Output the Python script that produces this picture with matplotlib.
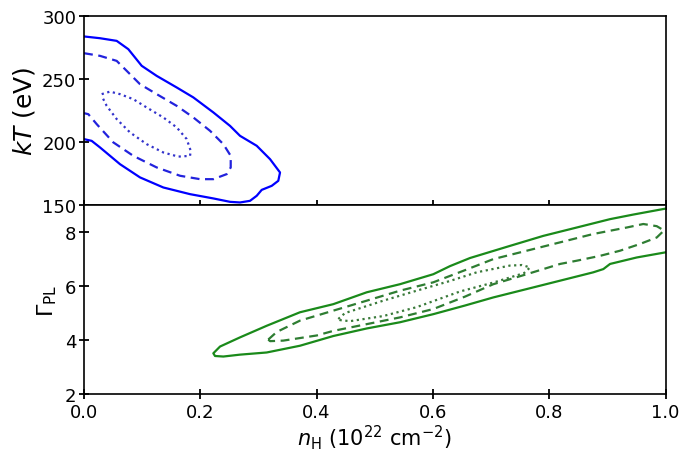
import numpy as np
from matplotlib import pyplot as plt

# kT vs nH contours (blue)
kt_solid_x = [0, 0.0275, 0.0562, 0.0762, 0.0877, 0.0992, 0.125, 0.1594, 0.188, 0.2224,
              0.2511, 0.2683, 0.297, 0.3199, 0.3371, 0.3341, 0.3228, 0.3056, 0.297, 0.2855,
              0.2683, 0.2511, 0.2224, 0.1823, 0.1364, 0.0963, 0.0619, 0.0275, 0.0132, 0]
kt_solid_y = [283.9, 282.5, 280.4, 273.8, 267.2, 260.6, 252.6, 243.4, 235.5, 223.6,
              212.9, 205.0, 197.1, 186.5, 175.9, 169.3, 165.3, 162.1, 157.4, 153.4,
              152.1, 152.6, 155.3, 158.7, 164.0, 172.0, 182.5, 195.8, 201.0, 202.4]

kt_dash_x = [0, 0.0275, 0.0562, 0.0734, 0.0963, 0.125, 0.1594, 0.188, 0.2167, 0.2396, 0.2523,
             0.2523, 0.2454, 0.2224, 0.1995, 0.1651, 0.125, 0.0848, 0.0504, 0.0218, 0.0074, 0]
kt_dash_y = [270.6, 268.5, 264.5, 256.6, 246.0, 238.1, 228.8, 219.6, 209.0, 198.4, 189.1,
             179.9, 174.6, 170.6, 170.6, 173.3, 179.9, 189.1, 199.8, 214.3, 222.2, 223.0]

kt_dot_x = [0.0304, 0.0447, 0.0619, 0.0848, 0.1078, 0.1364, 0.1594, 0.1766, 0.1835,
            0.1823, 0.1622, 0.1364, 0.1078, 0.0791, 0.0562, 0.039, 0.0304]
kt_dot_y = [238.1, 240.1, 238.1, 234.1, 227.5, 219.6, 211.7, 202.4, 193.1,
            189.1, 188.5, 191.8, 198.4, 207.7, 218.3, 228.8, 236.7]

# Gamma vs nH contours (green); the outer one runs off the right edge
gam_solid_x = [1.0, 0.9446, 0.9046, 0.8473, 0.7898, 0.7326, 0.6638, 0.6294, 0.6007, 0.5434,
               0.4862, 0.4287, 0.3714, 0.3142, 0.2683, 0.2339, 0.2224,
               0.2253, 0.2396, 0.2683, 0.3142, 0.3714, 0.4287, 0.4862, 0.5434, 0.6007,
               0.6552, 0.7039, 0.7613, 0.8186, 0.8758, 0.8931, 0.9046, 0.9505, 1.0]
gam_solid_y = [8.87, 8.65, 8.48, 8.17, 7.86, 7.49, 7.04, 6.74, 6.44, 6.07,
               5.77, 5.33, 5.03, 4.53, 4.10, 3.76, 3.51,
               3.41, 3.39, 3.46, 3.54, 3.79, 4.15, 4.43, 4.66, 4.96,
               5.28, 5.58, 5.89, 6.20, 6.51, 6.63, 6.82, 7.06, 7.25]

gam_dash_x = [0.3169, 0.3314, 0.3714, 0.4287, 0.4862, 0.5434, 0.6007, 0.6552, 0.7039, 0.7613,
              0.8186, 0.8758, 0.9333, 0.9618, 0.9849, 0.9974,
              0.9849, 0.9561, 0.9217, 0.8874, 0.8473, 0.8186, 0.7613, 0.7039, 0.6552, 0.6007,
              0.5434, 0.4862, 0.4287, 0.4002, 0.3427, 0.3199, 0.3169]
gam_dash_y = [4.02, 4.30, 4.72, 5.09, 5.46, 5.83, 6.14, 6.59, 7.00, 7.31,
              7.62, 7.93, 8.17, 8.30, 8.22, 8.06,
              7.80, 7.56, 7.31, 7.12, 6.94, 6.82, 6.44, 6.07, 5.61, 5.15,
              4.84, 4.59, 4.34, 4.17, 3.98, 3.96, 4.02]

gam_dot_x = [0.4373, 0.4488, 0.5147, 0.5721, 0.6294, 0.6753, 0.7326, 0.7532, 0.767,
             0.7567, 0.7039, 0.6466, 0.5721, 0.5147, 0.4574, 0.4402, 0.4373]
gam_dot_y = [4.78, 5.00, 5.46, 5.83, 6.19, 6.51, 6.76, 6.78, 6.69,
             6.48, 6.13, 5.80, 5.22, 4.89, 4.70, 4.74, 4.78]

xticks = [0.0, 0.2, 0.4, 0.6, 0.8, 1.0]

fig = plt.figure(figsize=(6.96, 4.52), dpi=100)
ax1 = fig.add_axes([0.1207, 0.544, 0.8355, 0.418])
ax2 = fig.add_axes([0.1207, 0.126, 0.8355, 0.418], sharex=ax1)

lw = 1.6
ax1.plot(kt_solid_x, kt_solid_y, color='blue', lw=lw, ls='-')
ax1.plot(kt_dash_x, kt_dash_y, color='#2222dd', lw=lw, ls=(0, (4, 2.5)))
ax1.plot(kt_dot_x, kt_dot_y, color='#3333cc', lw=lw, ls=(0, (1, 1.6)))

ax2.plot(gam_solid_x, gam_solid_y, color='#1a8a1a', lw=lw, ls='-')
ax2.plot(gam_dash_x, gam_dash_y, color='#2e7d32', lw=lw, ls=(0, (4, 2.5)))
ax2.plot(gam_dot_x, gam_dot_y, color='#3a7a3a', lw=lw, ls=(0, (1, 1.6)))

ax1.set_xlim(0, 1)
ax1.set_ylim(150, 300)
ax1.set_yticks([150, 200, 250, 300])
ax2.set_ylim(2, 9)
ax2.set_yticks([2, 4, 6, 8])
ax2.set_xticks(xticks)
ax2.set_xticklabels(['%.1f' % t for t in xticks])

for ax in (ax1, ax2):
    ax.tick_params(direction='inout', length=7, width=1.3, labelsize=13,
                   top=False, right=False, pad=2)
    for s in ax.spines.values():
        s.set_linewidth(1.2)
ax1.tick_params(labelbottom=False)
ax2.tick_params(axis='x', pad=3)

ax1.set_ylabel('$kT$ (eV)', fontsize=18, labelpad=4)
ax2.set_ylabel(r'$\Gamma_{\rm PL}$', fontsize=16)
ax2.set_xlabel(r'$n_{\rm H}$ ($10^{22}$ cm$^{-2}$)', fontsize=15, labelpad=1)

fig.savefig('out.png', dpi=100)
